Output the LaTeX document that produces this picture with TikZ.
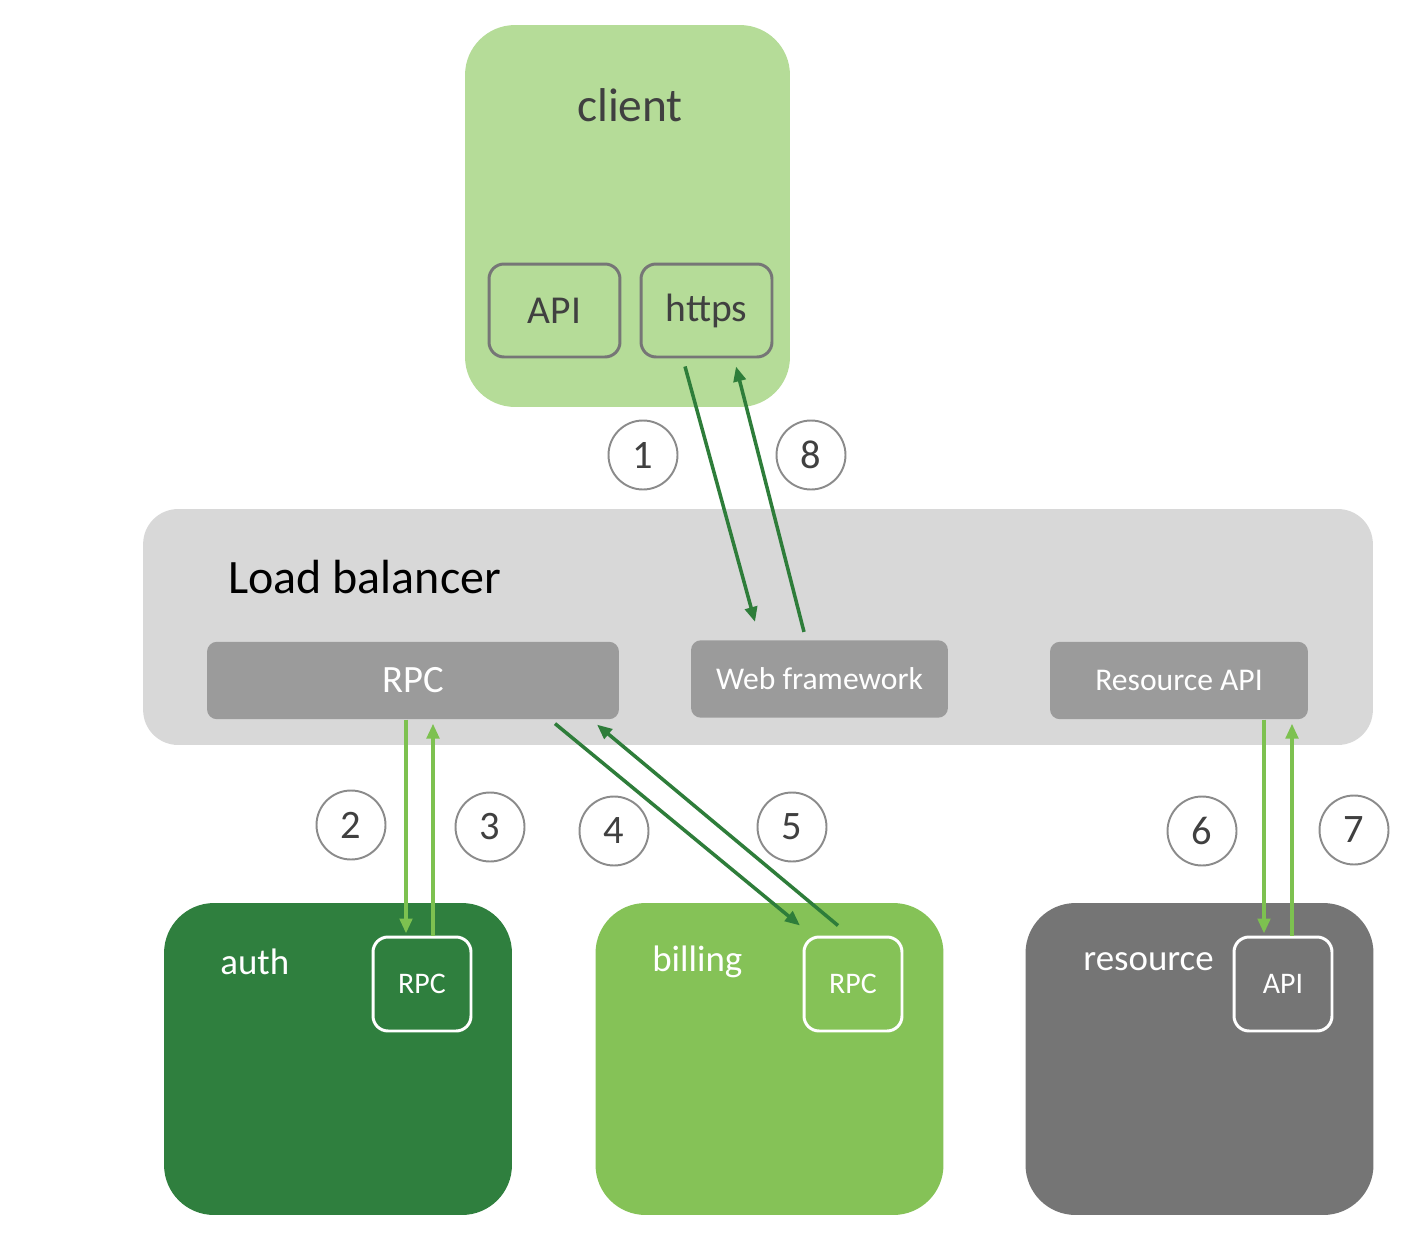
\documentclass[tikz,border=0pt]{standalone}
\usepackage{fontspec}
\setmainfont{Carlito}
\usetikzlibrary{arrows.meta, calc}

\definecolor{clientgreen}{HTML}{B5DC98}
\definecolor{lbgray}{HTML}{D8D8D8}
\definecolor{bargray}{HTML}{9B9B9B}
\definecolor{authgreen}{HTML}{2F7F3E}
\definecolor{billgreen}{HTML}{85C257}
\definecolor{resgray}{HTML}{757575}
\definecolor{darkarrow}{HTML}{2E7D3A}
\definecolor{lightarrow}{HTML}{7DC150}
\definecolor{boxline}{HTML}{767676}
\definecolor{inktext}{HTML}{404040}

\begin{document}
\begin{tikzpicture}[
        x=0.02cm, y=-0.02cm,
        every node/.style={inner sep=0pt},
        group/.style={rectangle, rounded corners=1cm, minimum width=6.96cm, minimum height=6.24cm},
        innerbox/.style={rectangle, draw=white, line width=1.7pt, rounded corners=0.3cm,
            minimum width=1.96cm, minimum height=1.88cm, text=white, font=\fontsize{17}{20}\selectfont},
        clientbox/.style={rectangle, draw=boxline, line width=1.7pt, rounded corners=0.3cm,
            minimum width=2.62cm, minimum height=1.86cm, text=inktext, font=\fontsize{22.5}{27}\selectfont},
        bar/.style={rectangle, fill=bargray, rounded corners=0.2cm, minimum height=1.55cm, text=white},
        step num/.style={circle, draw=boxline!85, line width=1.1pt, minimum size=1.38cm,
            text=inktext, font=\fontsize{23}{27}\selectfont},
        title/.style={anchor=west, text=white, font=\fontsize{21}{25}\selectfont},
        dark/.style={->, darkarrow, line width=2pt},
        light/.style={->, lightarrow, line width=2.3pt},
        >={Triangle[length=8.5pt,width=7pt]} % filled arrow heads
    ]
        \useasboundingbox (0,0) rectangle (1417,1254);

        % Client with its two boxes
        \node[rectangle, fill=clientgreen, rounded corners=1cm, minimum width=6.5cm, minimum height=7.64cm]
            (client) at (627.5,216) {};
        \node[text=inktext, font=\fontsize{27}{32}\selectfont] (clientlbl) at (630,105) {client};
        \node[clientbox] (api)   at (554.5,310.5) {API};
        \node[clientbox] (https) at (706.5,310.5) {https};

        % Load balancer and its parts
        \node[rectangle, fill=lbgray, rounded corners=0.7cm, minimum width=24.6cm, minimum height=4.72cm]
            (lb) at (758,627) {};
        \node[anchor=west, font=\fontsize{27.3}{33}\selectfont] (lblbl) at (228,577) {Load balancer};
        \node[bar, minimum width=8.24cm, font=\fontsize{22}{26}\selectfont] (rpcbar) at (413,680.5) {RPC};
        \node[bar, minimum width=5.14cm, font=\fontsize{18}{22}\selectfont] (web) at (819.5,679) {Web framework};
        \node[bar, minimum width=5.16cm, font=\fontsize{18}{22}\selectfont] (resapi) at (1179,680.5) {Resource API};

        % Back-end services
        \node[group, fill=authgreen] (auth) at (338,1059) {};
        \node[title] (authlbl) at (220,962) {auth};
        \node[innerbox, fill=authgreen] (authrpc) at (422,984) {RPC};

        \node[group, fill=billgreen] (billing) at (769.5,1059) {};
        \node[title] (billlbl) at (652,962) {billing};
        \node[innerbox, fill=billgreen] (billrpc) at (853,984) {RPC};

        \node[group, fill=resgray] (resource) at (1199.5,1059) {};
        \node[title] (reslbl) at (1083,962) {resource};
        \node[innerbox, fill=resgray] (resrpc) at (1283,984) {API};

        % Step numbers
        \node[step num] (s1) at (643,455)  {1};
        \node[step num] (s8) at (811,455)  {8};
        \node[step num] (s2) at (351,825)  {2};
        \node[step num] (s3) at (490,827)  {3};
        \node[step num] (s4) at (614,831)  {4};
        \node[step num] (s5) at (792,827)  {5};
        \node[step num] (s6) at (1202,831) {6};
        \node[step num] (s7) at (1354,830) {7};

        % Request / response arrows
        \draw[dark]  ($(https.south)+(-21.5,8)$) -- ($(web.north)+(-64.5,-18)$);
        \draw[dark]  ($(web.north)+(-15.5,-8)$) -- ($(https.south)+(29.5,8)$);
        \draw[light] ($(rpcbar.south)+(-7,0)$) -- ($(authrpc.north)+(-16,-2)$);
        \draw[light] ($(authrpc.north)+(11,0)$) -- ($(rpcbar.south)+(20,4)$);
        \draw[dark]  ($(rpcbar.south)+(142,4)$) -- ($(billrpc.north)+(-53,-10)$);
        \draw[dark]  ($(billrpc.north)+(-15,-10)$) -- ($(rpcbar.south)+(184,5)$);
        \draw[light] ($(resapi.south)+(85,0)$) -- ($(resrpc.north)+(-19,-2)$);
        \draw[light] ($(resrpc.north)+(9,0)$) -- ($(resapi.south)+(113,4)$);

    \end{tikzpicture}
\end{document}
